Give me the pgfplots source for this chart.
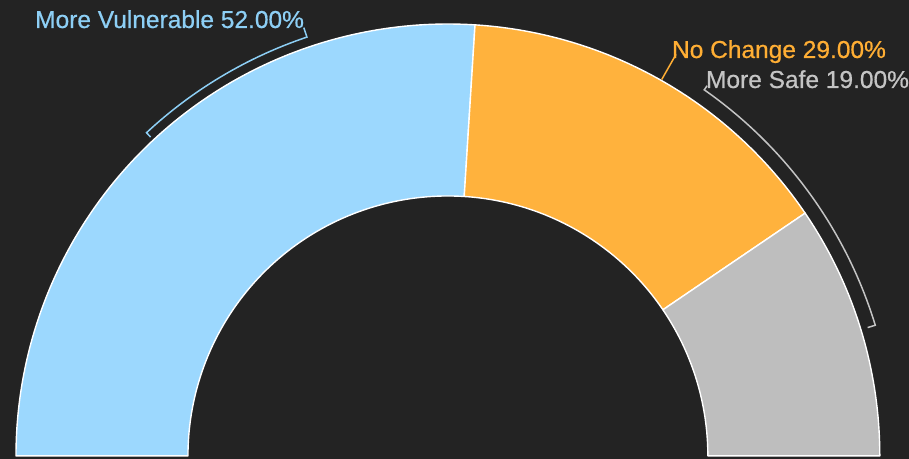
\documentclass[border=0pt]{standalone}
\usepackage{pgfplots}
\pgfplotsset{compat=1.18}
\usepackage{pgfplotstable}
\usepackage{fontspec}
\setmainfont{Liberation Sans}
\newfontfamily\labelfont[FakeBold=0.6]{Liberation Sans}

\definecolor{bg}{HTML}{232323}
\definecolor{cvuln}{HTML}{9CD8FE}
\definecolor{cchange}{HTML}{FFB23D}
\definecolor{csafe}{HTML}{BEBEBE}
\definecolor{tvuln}{HTML}{8DCFF5}
\definecolor{tchange}{HTML}{FFAE34}
\definecolor{tsafe}{HTML}{C4C4C4}

% share of answers, drawn clockwise from the left
\pgfplotstableread[col sep=comma]{
label,value,fill
More Vulnerable,52,cvuln
No Change,29,cchange
More Safe,19,csafe
}\shares

\def\cx{448}\def\cy{3}
\def\Rout{432}\def\Rin{260}

\begin{document}
\begin{tikzpicture}
\begin{axis}[
  width=909bp, height=459bp, scale only axis,
  xmin=0, xmax=909, ymin=0, ymax=459,
  hide axis, clip=false,
]
\fill[bg] (rel axis cs:0,0) rectangle (rel axis cs:1,1);
\pgfplotsextra{
  \pgfplotstablegetrowsof{\shares}
  \pgfmathtruncatemacro\last{\pgfplotsretval-1}
  \gdef\startangle{180}
  \foreach \i in {0,...,\last}{
    \pgfplotstablegetelem{\i}{value}\of\shares
    \pgfmathsetmacro\endangle{\startangle-\pgfplotsretval*1.8}
    \pgfplotstablegetelem{\i}{fill}\of\shares
    \edef\slicecol{\pgfplotsretval}
    \filldraw[fill=\slicecol, draw=white, line width=1.4pt, line join=round]
      (axis cs:\cx,\cy) ++(\startangle:\Rout bp)
      arc[start angle=\startangle, end angle=\endangle, radius=\Rout bp]
      -- ++(\endangle:-\Rout bp+\Rin bp)
      arc[start angle=\endangle, end angle=\startangle, radius=\Rin bp]
      -- cycle;
    \xdef\startangle{\endangle}
  }
}
% leader brackets
\draw[tvuln, line width=1.5pt]
  (axis cs:\cx,\cy) ++(108.6:452bp) -- ++(108.6:-10bp)
  arc[start angle=108.6, end angle=133, radius=442bp] -- ++(133:-6bp);
\draw[tchange, line width=1.5pt]
  (axis cs:\cx,\cy) ++(60.4:433bp) -- ++(60.4:29bp);
\draw[tsafe, line width=1.5pt]
  (axis cs:\cx,\cy) ++(55:452bp) -- ++(55:-5bp)
  arc[start angle=55, end angle=17, radius=447bp] -- ++(17:-8bp);
% labels
\node[anchor=base west, inner sep=0pt, text=tvuln, font=\labelfont\fontsize{24.6}{28}\selectfont]
  at (axis cs:35,431) {More Vulnerable 52.00\%};
\node[anchor=base west, inner sep=0pt, text=tchange, font=\labelfont\fontsize{24.6}{28}\selectfont]
  at (axis cs:672,401) {No Change 29.00\%};
\node[anchor=base west, inner sep=0pt, text=tsafe, font=\labelfont\fontsize{24.6}{28}\selectfont]
  at (axis cs:706,371) {More Safe 19.00\%};
\end{axis}
\end{tikzpicture}
\end{document}
